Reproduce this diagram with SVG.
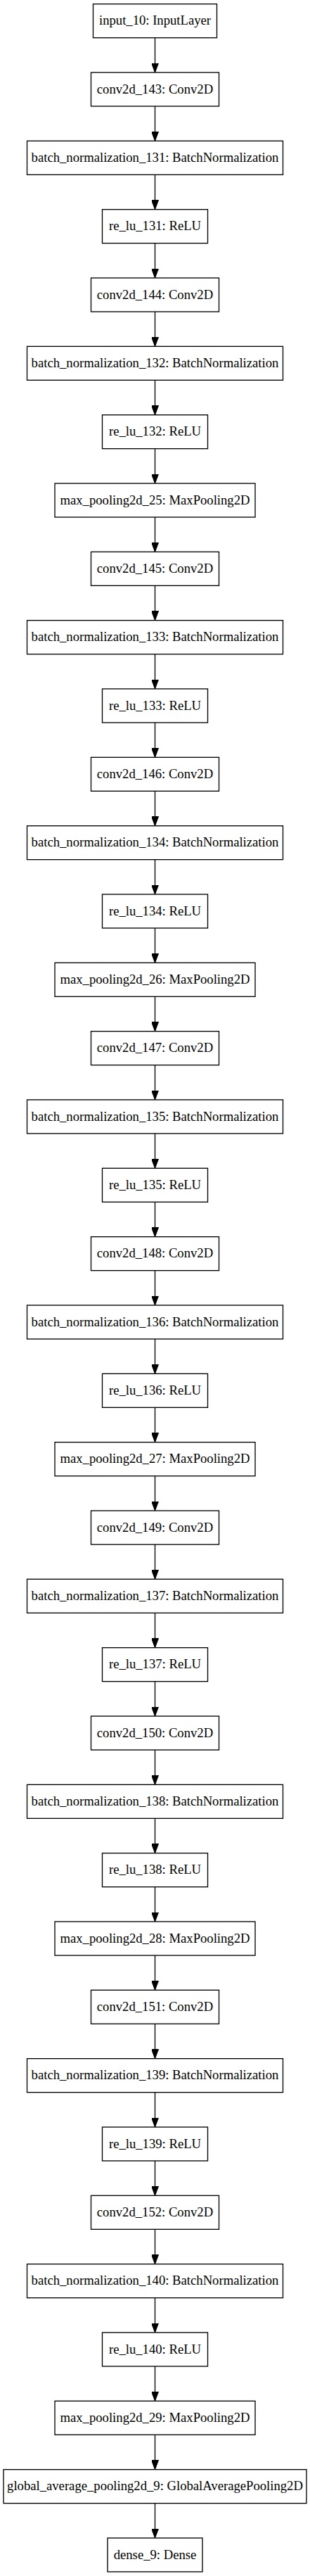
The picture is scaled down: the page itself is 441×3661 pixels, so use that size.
<svg xmlns="http://www.w3.org/2000/svg" width="441" height="3661" viewBox="0 0 441 3661">
<style>
.n rect{fill:#fff;stroke:#000;stroke-width:1.33}
.n text{font-family:"Liberation Serif","Times New Roman",serif;font-size:18.67px;text-anchor:middle;fill:#000}
.e line{stroke:#000;stroke-width:1.33}
</style>
<defs>
<marker id="ah" markerUnits="userSpaceOnUse" markerWidth="14" markerHeight="10" refX="13.3" refY="5" orient="auto">
<path d="M0,0 L13.3,5 L0,10 z" fill="#000" stroke="#000" stroke-width="1"/>
</marker>
</defs>
<rect width="441" height="3661" fill="#fff"/>
<g id="edges" class="e">
<line x1="220.5" y1="53.67" x2="220.5" y2="103" marker-end="url(#ah)"/>
<line x1="220.5" y1="151" x2="220.5" y2="200.33" marker-end="url(#ah)"/>
<line x1="220.5" y1="248.33" x2="220.5" y2="297.67" marker-end="url(#ah)"/>
<line x1="220.5" y1="345.67" x2="220.5" y2="395" marker-end="url(#ah)"/>
<line x1="220.5" y1="443" x2="220.5" y2="492.33" marker-end="url(#ah)"/>
<line x1="220.5" y1="540.33" x2="220.5" y2="589.67" marker-end="url(#ah)"/>
<line x1="220.5" y1="637.67" x2="220.5" y2="687" marker-end="url(#ah)"/>
<line x1="220.5" y1="735" x2="220.5" y2="784.33" marker-end="url(#ah)"/>
<line x1="220.5" y1="832.33" x2="220.5" y2="881.67" marker-end="url(#ah)"/>
<line x1="220.5" y1="929.67" x2="220.5" y2="979" marker-end="url(#ah)"/>
<line x1="220.5" y1="1027" x2="220.5" y2="1076.33" marker-end="url(#ah)"/>
<line x1="220.5" y1="1124.33" x2="220.5" y2="1173.67" marker-end="url(#ah)"/>
<line x1="220.5" y1="1221.67" x2="220.5" y2="1271" marker-end="url(#ah)"/>
<line x1="220.5" y1="1319" x2="220.5" y2="1368.33" marker-end="url(#ah)"/>
<line x1="220.5" y1="1416.33" x2="220.5" y2="1465.67" marker-end="url(#ah)"/>
<line x1="220.5" y1="1513.67" x2="220.5" y2="1563" marker-end="url(#ah)"/>
<line x1="220.5" y1="1611" x2="220.5" y2="1660.33" marker-end="url(#ah)"/>
<line x1="220.5" y1="1708.33" x2="220.5" y2="1757.67" marker-end="url(#ah)"/>
<line x1="220.5" y1="1805.67" x2="220.5" y2="1855" marker-end="url(#ah)"/>
<line x1="220.5" y1="1903" x2="220.5" y2="1952.33" marker-end="url(#ah)"/>
<line x1="220.5" y1="2000.33" x2="220.5" y2="2049.67" marker-end="url(#ah)"/>
<line x1="220.5" y1="2097.67" x2="220.5" y2="2147" marker-end="url(#ah)"/>
<line x1="220.5" y1="2195" x2="220.5" y2="2244.33" marker-end="url(#ah)"/>
<line x1="220.5" y1="2292.33" x2="220.5" y2="2341.67" marker-end="url(#ah)"/>
<line x1="220.5" y1="2389.67" x2="220.5" y2="2439" marker-end="url(#ah)"/>
<line x1="220.5" y1="2487" x2="220.5" y2="2536.33" marker-end="url(#ah)"/>
<line x1="220.5" y1="2584.33" x2="220.5" y2="2633.67" marker-end="url(#ah)"/>
<line x1="220.5" y1="2681.67" x2="220.5" y2="2731" marker-end="url(#ah)"/>
<line x1="220.5" y1="2779" x2="220.5" y2="2828.33" marker-end="url(#ah)"/>
<line x1="220.5" y1="2876.33" x2="220.5" y2="2925.67" marker-end="url(#ah)"/>
<line x1="220.5" y1="2973.67" x2="220.5" y2="3023" marker-end="url(#ah)"/>
<line x1="220.5" y1="3071" x2="220.5" y2="3120.33" marker-end="url(#ah)"/>
<line x1="220.5" y1="3168.33" x2="220.5" y2="3217.67" marker-end="url(#ah)"/>
<line x1="220.5" y1="3265.67" x2="220.5" y2="3315" marker-end="url(#ah)"/>
<line x1="220.5" y1="3363" x2="220.5" y2="3412.33" marker-end="url(#ah)"/>
<line x1="220.5" y1="3460.33" x2="220.5" y2="3509.67" marker-end="url(#ah)"/>
<line x1="220.5" y1="3557.67" x2="220.5" y2="3607" marker-end="url(#ah)"/>
</g>
<g id="input_10" class="n"><rect x="132.5" y="5.67" width="176" height="48"/><text x="220.5" y="35.17">input_10: InputLayer</text></g>
<g id="conv2d_143" class="n"><rect x="129.5" y="103" width="182" height="48"/><text x="220.5" y="132.5">conv2d_143: Conv2D</text></g>
<g id="batch_normalization_131" class="n"><rect x="38.5" y="200.33" width="364" height="48"/><text x="220.5" y="229.83">batch_normalization_131: BatchNormalization</text></g>
<g id="re_lu_131" class="n"><rect x="145.5" y="297.67" width="150" height="48"/><text x="220.5" y="327.17">re_lu_131: ReLU</text></g>
<g id="conv2d_144" class="n"><rect x="129.5" y="395" width="182" height="48"/><text x="220.5" y="424.5">conv2d_144: Conv2D</text></g>
<g id="batch_normalization_132" class="n"><rect x="38.5" y="492.33" width="364" height="48"/><text x="220.5" y="521.83">batch_normalization_132: BatchNormalization</text></g>
<g id="re_lu_132" class="n"><rect x="145.5" y="589.67" width="150" height="48"/><text x="220.5" y="619.17">re_lu_132: ReLU</text></g>
<g id="max_pooling2d_25" class="n"><rect x="78" y="687" width="285" height="48"/><text x="220.5" y="716.5">max_pooling2d_25: MaxPooling2D</text></g>
<g id="conv2d_145" class="n"><rect x="129.5" y="784.33" width="182" height="48"/><text x="220.5" y="813.83">conv2d_145: Conv2D</text></g>
<g id="batch_normalization_133" class="n"><rect x="38.5" y="881.67" width="364" height="48"/><text x="220.5" y="911.17">batch_normalization_133: BatchNormalization</text></g>
<g id="re_lu_133" class="n"><rect x="145.5" y="979" width="150" height="48"/><text x="220.5" y="1008.5">re_lu_133: ReLU</text></g>
<g id="conv2d_146" class="n"><rect x="129.5" y="1076.33" width="182" height="48"/><text x="220.5" y="1105.83">conv2d_146: Conv2D</text></g>
<g id="batch_normalization_134" class="n"><rect x="38.5" y="1173.67" width="364" height="48"/><text x="220.5" y="1203.17">batch_normalization_134: BatchNormalization</text></g>
<g id="re_lu_134" class="n"><rect x="145.5" y="1271" width="150" height="48"/><text x="220.5" y="1300.5">re_lu_134: ReLU</text></g>
<g id="max_pooling2d_26" class="n"><rect x="78" y="1368.33" width="285" height="48"/><text x="220.5" y="1397.83">max_pooling2d_26: MaxPooling2D</text></g>
<g id="conv2d_147" class="n"><rect x="129.5" y="1465.67" width="182" height="48"/><text x="220.5" y="1495.17">conv2d_147: Conv2D</text></g>
<g id="batch_normalization_135" class="n"><rect x="38.5" y="1563" width="364" height="48"/><text x="220.5" y="1592.5">batch_normalization_135: BatchNormalization</text></g>
<g id="re_lu_135" class="n"><rect x="145.5" y="1660.33" width="150" height="48"/><text x="220.5" y="1689.83">re_lu_135: ReLU</text></g>
<g id="conv2d_148" class="n"><rect x="129.5" y="1757.67" width="182" height="48"/><text x="220.5" y="1787.17">conv2d_148: Conv2D</text></g>
<g id="batch_normalization_136" class="n"><rect x="38.5" y="1855" width="364" height="48"/><text x="220.5" y="1884.5">batch_normalization_136: BatchNormalization</text></g>
<g id="re_lu_136" class="n"><rect x="145.5" y="1952.33" width="150" height="48"/><text x="220.5" y="1981.83">re_lu_136: ReLU</text></g>
<g id="max_pooling2d_27" class="n"><rect x="78" y="2049.67" width="285" height="48"/><text x="220.5" y="2079.17">max_pooling2d_27: MaxPooling2D</text></g>
<g id="conv2d_149" class="n"><rect x="129.5" y="2147" width="182" height="48"/><text x="220.5" y="2176.5">conv2d_149: Conv2D</text></g>
<g id="batch_normalization_137" class="n"><rect x="38.5" y="2244.33" width="364" height="48"/><text x="220.5" y="2273.83">batch_normalization_137: BatchNormalization</text></g>
<g id="re_lu_137" class="n"><rect x="145.5" y="2341.67" width="150" height="48"/><text x="220.5" y="2371.17">re_lu_137: ReLU</text></g>
<g id="conv2d_150" class="n"><rect x="129.5" y="2439" width="182" height="48"/><text x="220.5" y="2468.5">conv2d_150: Conv2D</text></g>
<g id="batch_normalization_138" class="n"><rect x="38.5" y="2536.33" width="364" height="48"/><text x="220.5" y="2565.83">batch_normalization_138: BatchNormalization</text></g>
<g id="re_lu_138" class="n"><rect x="145.5" y="2633.67" width="150" height="48"/><text x="220.5" y="2663.17">re_lu_138: ReLU</text></g>
<g id="max_pooling2d_28" class="n"><rect x="78" y="2731" width="285" height="48"/><text x="220.5" y="2760.5">max_pooling2d_28: MaxPooling2D</text></g>
<g id="conv2d_151" class="n"><rect x="129.5" y="2828.33" width="182" height="48"/><text x="220.5" y="2857.83">conv2d_151: Conv2D</text></g>
<g id="batch_normalization_139" class="n"><rect x="38.5" y="2925.67" width="364" height="48"/><text x="220.5" y="2955.17">batch_normalization_139: BatchNormalization</text></g>
<g id="re_lu_139" class="n"><rect x="145.5" y="3023" width="150" height="48"/><text x="220.5" y="3052.5">re_lu_139: ReLU</text></g>
<g id="conv2d_152" class="n"><rect x="129.5" y="3120.33" width="182" height="48"/><text x="220.5" y="3149.83">conv2d_152: Conv2D</text></g>
<g id="batch_normalization_140" class="n"><rect x="38.5" y="3217.67" width="364" height="48"/><text x="220.5" y="3247.17">batch_normalization_140: BatchNormalization</text></g>
<g id="re_lu_140" class="n"><rect x="145.5" y="3315" width="150" height="48"/><text x="220.5" y="3344.5">re_lu_140: ReLU</text></g>
<g id="max_pooling2d_29" class="n"><rect x="78" y="3412.33" width="285" height="48"/><text x="220.5" y="3441.83">max_pooling2d_29: MaxPooling2D</text></g>
<g id="global_average_pooling2d_9" class="n"><rect x="5" y="3509.67" width="431" height="48"/><text x="220.5" y="3539.17">global_average_pooling2d_9: GlobalAveragePooling2D</text></g>
<g id="dense_9" class="n"><rect x="153" y="3607" width="135" height="48"/><text x="220.5" y="3636.5">dense_9: Dense</text></g>
</svg>
